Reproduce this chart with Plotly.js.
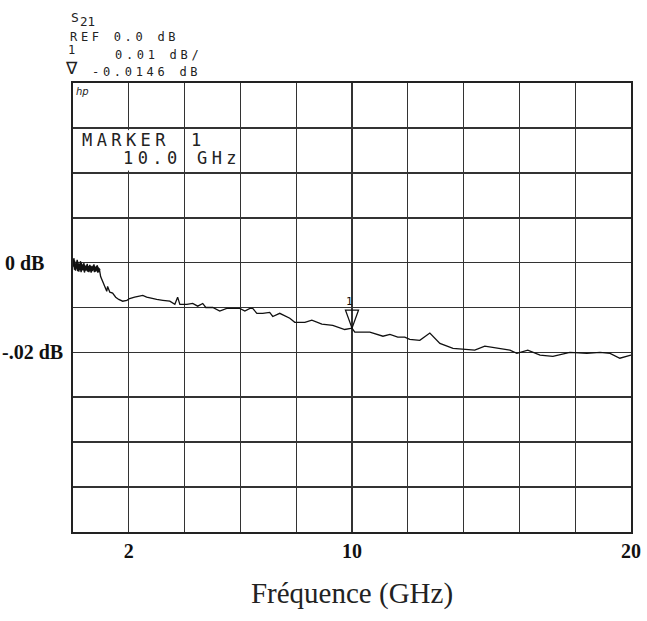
<!DOCTYPE html>
<html>
<head>
<meta charset="utf-8">
<script src="https://cdn.plot.ly/plotly-3.0.1.min.js"></script>
<style>
  html, body { margin: 0; padding: 0; background: #fff; }
  #chart { width: 647px; height: 621px; }
  text.annotation-text[style*="Sans Mono"][style*="font-size: 12px"] { letter-spacing: 3.7px; }
  text.annotation-text[style*="Sans Mono"][style*="font-size: 17px"] { letter-spacing: 4.4px; }
</style>
</head>
<body>
<div id="chart"></div>
<script>
// ---- Data (S21 transmission, HP network analyzer plot) ----
// The first part holds the overlapping noisy sweeps below 1 GHz.
const freqGHz = [
  0.00,0.03,0.06,0.09,0.12,0.15,0.18,0.21,0.24,0.27,0.30,0.33,0.36,0.39,0.42,0.45,
  0.48,0.51,0.54,0.57,0.60,0.63,0.66,0.69,0.72,0.75,0.78,0.81,0.84,0.87,0.90,0.93,0.96,
  0.93,0.87,0.81,0.75,0.69,0.63,0.57,0.51,0.45,0.39,0.33,0.27,0.21,0.15,0.09,0.03,
  0.05,0.11,0.17,0.23,0.29,0.35,0.41,0.47,0.53,0.59,0.65,0.71,0.77,0.83,0.89,0.95,
  0.99,1.07,1.14,1.21,1.24,1.32,1.42,1.53,1.64,1.78,1.93,2.03,2.21,2.39,2.50,2.64,
  2.82,3.00,3.22,3.47,3.65,3.75,3.83,4.08,4.29,4.47,4.65,4.76,5.01,5.26,5.51,5.80,
  5.98,6.16,6.34,6.44,6.59,6.80,7.05,7.16,7.41,7.77,7.95,8.31,8.56,8.92,9.31,9.74,
  10.00,10.10,10.64,11.11,11.36,11.64,11.89,12.07,12.43,12.79,13.15,13.62,13.97,14.40,
  14.76,15.30,15.66,15.91,16.30,16.74,17.20,17.81,18.42,18.89,19.25,19.60,20.00
];
const s21dB = [
  0.0008,-0.0010,0.0004,-0.0018,-0.0002,-0.0014,0.0002,-0.0020,-0.0006,-0.0016,0.0000,
  -0.0012,-0.0004,-0.0018,-0.0008,-0.0014,-0.0006,-0.0019,-0.0008,-0.0013,-0.0005,-0.0017,
  -0.0009,-0.0012,-0.0007,-0.0016,-0.0010,-0.0013,-0.0008,-0.0015,-0.0011,-0.0014,-0.0015,
  -0.0021,-0.0006,-0.0020,-0.0004,-0.0019,-0.0007,-0.0021,-0.0003,-0.0018,-0.0001,-0.0017,
  0.0003,-0.0015,0.0006,-0.0012,0.0010,
  -0.0016,-0.0002,-0.0019,-0.0003,-0.0021,-0.0005,-0.0022,-0.0006,-0.0020,-0.0008,-0.0022,
  -0.0009,-0.0021,-0.0010,-0.0022,-0.0016,
  -0.0031,-0.0044,-0.0057,-0.0064,-0.0053,-0.0066,-0.0068,-0.0077,-0.0082,-0.0086,-0.0084,
  -0.0080,-0.0077,-0.0075,-0.0073,-0.0077,-0.0080,-0.0082,-0.0084,-0.0086,-0.0093,-0.0077,
  -0.0093,-0.0093,-0.0091,-0.0097,-0.0091,-0.0100,-0.0100,-0.0108,-0.0102,-0.0102,-0.0102,
  -0.0108,-0.0102,-0.0102,-0.0113,-0.0113,-0.0111,-0.0120,-0.0113,-0.0124,-0.0133,-0.0133,
  -0.0128,-0.0137,-0.0140,-0.0149,-0.0146,-0.0155,-0.0155,-0.0164,-0.0160,-0.0166,-0.0166,
  -0.0171,-0.0173,-0.0157,-0.0180,-0.0191,-0.0193,-0.0195,-0.0186,-0.0191,-0.0195,-0.0202,
  -0.0195,-0.0206,-0.0209,-0.0200,-0.0202,-0.0200,-0.0202,-0.0213,-0.0206
];
const markerFreq = [10.0];
const markerDb = [-0.0146];
const markerLabel = ['1'];

const xGridVals = [0,2,4,6,8,10,12,14,16,18,20];
const xTickVals = [2, 10, 20];
const xTickText = ['2', '10', '20'];
const yLabelVals = [0, -0.02];
const yLabelText = ['0 dB', '-.02 dB'];

const headerLines = ['REF 0.0 dB', '0.01 dB/', '-0.0146 dB'];
const markerBoxText = ['MARKER', '1', '10.0', 'GHz'];
const xTitle = 'Fréquence (GHz)';

// ---- Layout geometry ----
const W = 647, H = 621;
const M = { l: 73, r: 16, t: 83, b: 89 };
const plotW = W - M.l - M.r, plotH = H - M.t - M.b;
const xRange = [0, 20], yRange = [-0.06, 0.04];
const gxPerPx = (xRange[1] - xRange[0]) / plotW;
const dyPerPx = (yRange[1] - yRange[0]) / plotH;
const px = v => (v - M.l) / plotW;           // pixel x -> paper
const py = v => (H - M.b - v) / plotH;       // pixel y -> paper

const mono = 'DejaVu Sans Mono';
const ink = '#222';

const tickText = xGridVals.map(v => {
  const i = xTickVals.indexOf(v);
  return i >= 0 ? xTickText[i] : '';
});

const trace = {
  x: freqGHz, y: s21dB, type: 'scatter', mode: 'lines',
  line: { color: '#111', width: 1.3 }, hoverinfo: 'skip'
};

// marker triangle built from marker data
const tri = markerFreq.map((f, i) => {
  const y0 = markerDb[i];
  const hw = 6.5 * gxPerPx, h = 18 * dyPerPx;
  return {
    type: 'path', xref: 'x', yref: 'y', layer: 'above',
    path: `M ${f} ${y0} L ${f - hw} ${y0 + h} L ${f + hw} ${y0 + h} Z`,
    line: { color: '#111', width: 1.3 }, fillcolor: 'rgba(0,0,0,0)'
  };
});

const annotations = [];
function ann(text, x, y, size, extra) {
  annotations.push(Object.assign({
    text: text, xref: 'paper', yref: 'paper', x: x, y: y,
    xanchor: 'left', yanchor: 'middle', showarrow: false, borderpad: 0,
    font: { family: mono, size: size, color: ink }
  }, extra || {}));
}
// header
ann('S', px(70), py(18), 13);
ann('21', px(79), py(22), 12.5);
ann(headerLines[0], px(69), py(37), 12);
ann('1', px(67), py(50), 12);
ann(headerLines[1], px(114), py(55), 12);
ann('∇', px(64), py(68), 17, { font: { family: 'DejaVu Sans', size: 17, color: ink } });
ann(headerLines[2], px(91), py(72), 12);
// hp logo
ann('hp', px(75), py(91), 10, { font: { family: 'DejaVu Sans', size: 10, color: ink, style: 'italic' } });
// marker box
ann(markerBoxText[0], px(81), py(140), 17);
ann(markerBoxText[1], px(190), py(140), 17);
ann(markerBoxText[2], px(122), py(158), 17);
ann(markerBoxText[3], px(196), py(158), 17);
// y labels
const yLabelRight = [46, 65];
yLabelVals.forEach((v, i) => {
  annotations.push({
    text: yLabelText[i], xref: 'paper', yref: 'y', x: px(yLabelRight[i]), y: v,
    xanchor: 'right', yanchor: 'middle', showarrow: false,
    font: { family: 'Liberation Serif', size: 20, color: '#111', weight: 'bold' }
  });
});
// marker number above the triangle
markerFreq.forEach((f, i) => {
  annotations.push({
    text: markerLabel[i], xref: 'x', yref: 'y', x: f, y: markerDb[i],
    yshift: 27, xshift: -3, showarrow: false, xanchor: 'center', yanchor: 'middle',
    font: { family: mono, size: 11, color: '#111' }
  });
});

// white patch hiding the 2 GHz grid line inside the marker readout box
const cover = {
  type: 'rect', xref: 'x', yref: 'y', layer: 'between',
  x0: 1.7, x1: 2.3, y0: 0.0205, y1: 0.0295,
  fillcolor: '#fff', line: { width: 0 }
};

const layout = {
  width: W, height: H, margin: M,
  paper_bgcolor: '#fff', plot_bgcolor: '#fff',
  showlegend: false,
  xaxis: {
    range: xRange, tickvals: xGridVals, ticktext: tickText, ticks: '',
    showgrid: true, gridcolor: '#333', gridwidth: 1.3, zeroline: false,
    showline: true, mirror: true, linecolor: '#222', linewidth: 2,
    tickfont: { family: 'Liberation Serif', size: 20, color: '#111', weight: 'bold' },
    ticklabelstandoff: 0,
    title: { text: xTitle, font: { family: 'Liberation Serif', size: 29, color: '#222' }, standoff: 22 },
    fixedrange: true
  },
  yaxis: {
    range: yRange, dtick: 0.01, tick0: 0, showticklabels: false, ticks: '',
    showgrid: true, gridcolor: '#333', gridwidth: 1.7, zeroline: false,
    showline: true, mirror: true, linecolor: '#222', linewidth: 2,
    fixedrange: true
  },
  shapes: [cover].concat(tri),
  annotations: annotations
};

Plotly.newPlot('chart', [trace], layout, { staticPlot: true, displayModeBar: false });
</script>
</body>
</html>
